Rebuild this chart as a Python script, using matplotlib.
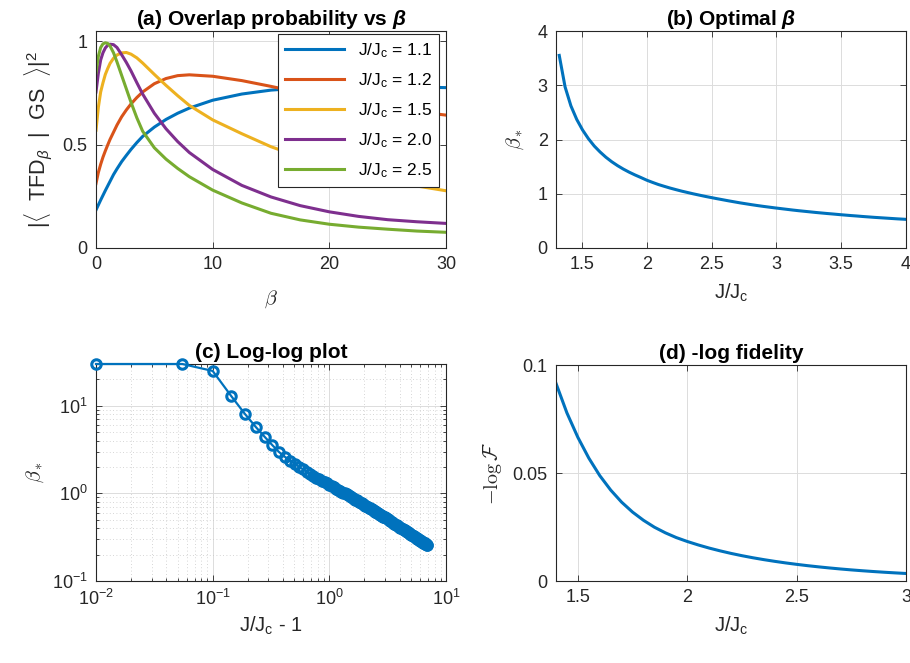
import numpy as np
import matplotlib
matplotlib.use("Agg")
import matplotlib.pyplot as plt
from matplotlib.ticker import FormatStrFormatter, NullFormatter, LogLocator

plt.rcParams['font.family'] = ['Liberation Sans', 'DejaVu Sans']
plt.rcParams['mathtext.fontset'] = 'custom'
plt.rcParams['mathtext.rm'] = 'Liberation Sans'
plt.rcParams['mathtext.it'] = 'Liberation Sans:italic'
plt.rcParams['mathtext.bf'] = 'Liberation Sans:bold'
plt.rcParams['mathtext.bfit'] = 'Liberation Sans:italic:bold'

# matlab default colours
colors = ['#0072BD', '#D95319', '#EDB120', '#7E2F8E', '#77AC30']
axcol = '#262626'

# (a) overlap probability vs beta, one curve per J/Jc
beta = [0, 0.2, 0.4, 0.6, 0.8, 1.0, 1.2, 1.5, 1.8, 2.2, 2.6, 3, 3.5, 4, 5, 6, 7, 8, 10,
        12.5, 15, 17.5, 20, 22.5, 25, 27.5, 30]
ratios = ['1.1', '1.2', '1.5', '2.0', '2.5']
ov_11 = [0.184, 0.208, 0.232, 0.255, 0.278, 0.30, 0.322, 0.355, 0.383, 0.418, 0.448,
         0.477, 0.51, 0.54, 0.585, 0.622, 0.652, 0.677, 0.715, 0.745, 0.764, 0.774,
         0.779, 0.781, 0.781, 0.779, 0.776]
ov_12 = [0.312, 0.365, 0.405, 0.44, 0.47, 0.498, 0.525, 0.56, 0.595, 0.635, 0.668,
         0.697, 0.728, 0.755, 0.795, 0.82, 0.834, 0.838, 0.831, 0.81, 0.782, 0.752,
         0.724, 0.70, 0.68, 0.66, 0.643]
ov_15 = [0.57, 0.68, 0.755, 0.80, 0.84, 0.868, 0.893, 0.918, 0.934, 0.944, 0.946,
         0.938, 0.92, 0.895, 0.84, 0.787, 0.737, 0.69, 0.62, 0.553, 0.49, 0.44,
         0.397, 0.36, 0.328, 0.30, 0.277]
ov_20 = [0.755, 0.845, 0.91, 0.945, 0.968, 0.981, 0.986, 0.984, 0.97, 0.935, 0.898,
         0.857, 0.80, 0.745, 0.652, 0.577, 0.515, 0.462, 0.38, 0.303, 0.247, 0.205,
         0.175, 0.153, 0.137, 0.127, 0.119]
ov_25 = [0.847, 0.927, 0.97, 0.988, 0.993, 0.99, 0.978, 0.945, 0.90, 0.835, 0.77,
         0.705, 0.63, 0.565, 0.485, 0.43, 0.385, 0.345, 0.28, 0.218, 0.168, 0.136,
         0.115, 0.101, 0.091, 0.082, 0.076]
overlaps = [ov_11, ov_12, ov_15, ov_20, ov_25]

# optimal beta vs J/Jc (used in b and c); sampling grid of J/Jc
J = np.round(np.concatenate([np.arange(1.01, 2.001, 0.045),
                             np.arange(2.045, 3.981, 0.045),
                             np.arange(4.07, 7.941, 0.09)]), 3)
beta_opt = [30, 30, 25, 12.8, 8.0, 5.7, 4.4, 3.55, 2.97, 2.62, 2.37, 2.175,
            2.015, 1.88, 1.77, 1.673, 1.59, 1.518, 1.454, 1.397, 1.346, 1.299, 1.25,
            1.209, 1.17, 1.137, 1.105, 1.076, 1.048, 1.023, 0.998, 0.975, 0.952,
            0.931, 0.91, 0.89, 0.87, 0.851, 0.832, 0.815, 0.798, 0.782, 0.767,
            0.753, 0.739, 0.726, 0.713, 0.70, 0.688, 0.677, 0.666, 0.655, 0.645,
            0.635, 0.626, 0.616, 0.607, 0.598, 0.590, 0.581, 0.573, 0.565, 0.558,
            0.551, 0.544, 0.537, 0.531,
            0.518, 0.505, 0.493, 0.482, 0.471, 0.461, 0.451, 0.441, 0.432, 0.423,
            0.415, 0.407, 0.399, 0.392, 0.385, 0.378, 0.372, 0.366, 0.360, 0.354,
            0.348, 0.343, 0.337, 0.332, 0.327, 0.323, 0.318, 0.313, 0.309, 0.305,
            0.301, 0.297, 0.293, 0.289, 0.285, 0.282, 0.278, 0.275, 0.272, 0.269,
            0.266, 0.263, 0.260, 0.257]

# (d) -log fidelity
J_fid = [1.40, 1.45, 1.50, 1.55, 1.60, 1.65, 1.70, 1.75, 1.80, 1.85, 1.90, 1.95, 2.00,
         2.05, 2.10, 2.15, 2.20, 2.25, 2.30, 2.35, 2.40, 2.45, 2.50, 2.55, 2.60,
         2.65, 2.70, 2.75, 2.80, 2.85, 2.90, 2.95, 3.00]
neglogF = [0.0915, 0.0778, 0.0665, 0.0569, 0.0488, 0.0421, 0.0365, 0.0319, 0.0281,
           0.0249, 0.0223, 0.0201, 0.0183, 0.0167, 0.01525, 0.01396, 0.01278, 0.01172,
           0.01076, 0.00989, 0.0091, 0.00837, 0.00771, 0.0071, 0.00655, 0.00604,
           0.00557, 0.00514, 0.00475, 0.00439, 0.00406, 0.00376, 0.00348]


def style(ax):
    ax.tick_params(which='both', direction='in', top=True, right=True,
                   colors=axcol, labelsize=13, width=0.6)
    ax.tick_params(which='major', length=4, pad=6)
    ax.tick_params(which='minor', length=2)
    for s in ax.spines.values():
        s.set_color(axcol)
        s.set_linewidth(0.8)
    ax.grid(True, which='major', color='#dcdcdc', linewidth=0.7)
    ax.set_axisbelow(True)


fig = plt.figure(figsize=(9.1, 6.63), dpi=100)
W, H = 910.0, 663.0
ax_a = fig.add_axes([96 / W, 1 - 248 / H, 350 / W, 217 / H])
ax_b = fig.add_axes([556 / W, 1 - 248 / H, 350 / W, 217 / H])
ax_c = fig.add_axes([96 / W, 1 - 581 / H, 350 / W, 217 / H])
ax_d = fig.add_axes([556 / W, 1 - 581 / H, 350 / W, 216 / H])

title_kw = dict(fontsize=15, fontweight='bold', pad=4)
lab_kw = dict(fontsize=14.5, color=axcol)

# (a)
for ov, r, c in zip(overlaps, ratios, colors):
    ax_a.plot(beta, ov, color=c, lw=2.2, label=r'J/J$_\mathrm{c}$ = ' + r)
ax_a.set_xlim(0, 30)
ax_a.set_ylim(0, 1.05)
ax_a.set_xticks([0, 10, 20, 30])
ax_a.set_yticks([0, 0.5, 1])
ax_a.yaxis.set_major_formatter(FormatStrFormatter('%g'))
style(ax_a)
ax_a.set_title(r'(a) Overlap probability vs $\mathbfit{\beta}$', **title_kw)
ax_a.set_xlabel(r'$\beta$', math_fontfamily='cm', labelpad=11, **lab_kw)
ax_a.set_ylabel(r'$|\langle\ \ \mathrm{TFD}_\beta\ \ |\ \ \mathrm{GS}\ \ \rangle|^2$',
                labelpad=6, fontsize=15.5, color=axcol)
leg = ax_a.legend(loc='upper right', bbox_to_anchor=(0.98, 0.986), borderaxespad=0,
                  fontsize=12.5, handlelength=3.4, fancybox=False, framealpha=1,
                  edgecolor=axcol, labelspacing=0.65)
leg.get_frame().set_linewidth(0.8)

# (b)
Jb = [j for j in J if j >= 1.3]
bb = [b for j, b in zip(J, beta_opt) if j >= 1.3]
ax_b.plot(Jb, bb, color=colors[0], lw=2.2)
ax_b.set_xlim(1.3, 4)
ax_b.set_ylim(0, 4)
ax_b.set_xticks([1.5, 2, 2.5, 3, 3.5, 4])
ax_b.set_yticks([0, 1, 2, 3, 4])
ax_b.xaxis.set_major_formatter(FormatStrFormatter('%g'))
style(ax_b)
ax_b.set_title(r'(b) Optimal $\mathbfit{\beta}$', **title_kw)
ax_b.set_xlabel(r'J/J$_\mathrm{c}$', labelpad=6, **lab_kw)
ax_b.set_ylabel(r'$\beta_*$', math_fontfamily='cm', labelpad=8, **lab_kw)

# (c)
Jm1 = J - 1
ax_c.plot(Jm1, beta_opt, color=colors[0], lw=1.6, marker='o', ms=6.8, mew=2.2,
          mfc='none', clip_on=False, zorder=3)
ax_c.set_xscale('log')
ax_c.set_yscale('log')
ax_c.set_xlim(1e-2, 10)
ax_c.set_ylim(0.1, 30)
ax_c.xaxis.set_minor_formatter(NullFormatter())
ax_c.yaxis.set_minor_formatter(NullFormatter())
ax_c.xaxis.set_minor_locator(LogLocator(subs=np.arange(2, 10), numticks=20))
ax_c.yaxis.set_minor_locator(LogLocator(subs=np.arange(2, 10), numticks=20))
style(ax_c)
ax_c.grid(True, which='minor', color='#c8c8c8', linewidth=0.6, linestyle=(0, (1, 3)))
ax_c.set_title('(c) Log-log plot', **title_kw)
ax_c.set_xlabel(r'J/J$_\mathrm{c}$ - 1', labelpad=4, **lab_kw)
ax_c.set_ylabel(r'$\beta_*$', math_fontfamily='cm', labelpad=4, **lab_kw)

# (d)
ax_d.plot(J_fid, neglogF, color=colors[0], lw=2.2)
ax_d.set_xlim(1.4, 3)
ax_d.set_ylim(0, 0.1)
ax_d.set_xticks([1.5, 2, 2.5, 3])
ax_d.set_yticks([0, 0.05, 0.1])
ax_d.xaxis.set_major_formatter(FormatStrFormatter('%g'))
ax_d.yaxis.set_major_formatter(FormatStrFormatter('%g'))
style(ax_d)
ax_d.set_title('(d) -log fidelity', **title_kw)
ax_d.set_xlabel(r'J/J$_\mathrm{c}$', labelpad=6, **lab_kw)
ax_d.set_ylabel(r'$-\log\mathcal{F}$', math_fontfamily='cm', labelpad=6, **lab_kw)

fig.savefig('out.png', dpi=100)
